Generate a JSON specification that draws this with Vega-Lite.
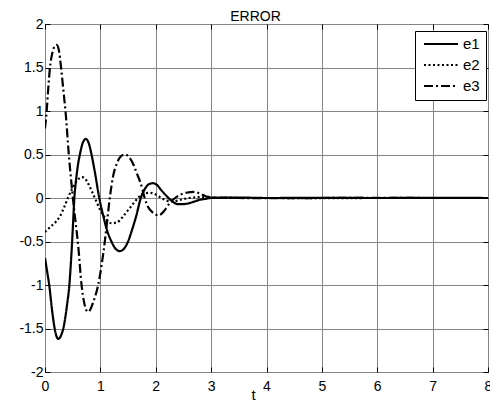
{
  "$schema": "https://vega.github.io/schema/vega-lite/v6.json",
  "autosize": "none",
  "width": 443,
  "height": 348,
  "padding": {"left": 45, "top": 24, "right": 2, "bottom": 31},
  "background": "white",
  "config": {
    "view": {"stroke": "black", "strokeWidth": 1},
    "font": "Liberation Sans",
    "axis": {"labelFont": "Liberation Sans", "titleFont": "Liberation Sans", "labelColor": "black", "titleColor": "black", "tickColor": "black", "domain": false, "gridColor": "#858585", "gridOpacity": 1, "gridWidth": 1}
  },
  "title": {"text": "ERROR", "fontSize": 14, "fontWeight": "normal", "font": "Liberation Sans", "color": "black", "baseline": "bottom", "offset": 2, "dx": -11, "dy": 23},
  "data": {"values": [
    {"t": 0, "v": -0.69, "s": "e1"},
    {"t": 0.04, "v": -0.85, "s": "e1"},
    {"t": 0.08, "v": -1.02, "s": "e1"},
    {"t": 0.12, "v": -1.25, "s": "e1"},
    {"t": 0.15, "v": -1.4, "s": "e1"},
    {"t": 0.19, "v": -1.55, "s": "e1"},
    {"t": 0.24, "v": -1.62, "s": "e1"},
    {"t": 0.29, "v": -1.58, "s": "e1"},
    {"t": 0.33, "v": -1.5, "s": "e1"},
    {"t": 0.36, "v": -1.4, "s": "e1"},
    {"t": 0.4, "v": -1.22, "s": "e1"},
    {"t": 0.44, "v": -1.0, "s": "e1"},
    {"t": 0.47, "v": -0.72, "s": "e1"},
    {"t": 0.49, "v": -0.5, "s": "e1"},
    {"t": 0.51, "v": -0.25, "s": "e1"},
    {"t": 0.53, "v": 0.0, "s": "e1"},
    {"t": 0.56, "v": 0.2, "s": "e1"},
    {"t": 0.6, "v": 0.4, "s": "e1"},
    {"t": 0.63, "v": 0.5, "s": "e1"},
    {"t": 0.68, "v": 0.63, "s": "e1"},
    {"t": 0.74, "v": 0.68, "s": "e1"},
    {"t": 0.79, "v": 0.63, "s": "e1"},
    {"t": 0.84, "v": 0.5, "s": "e1"},
    {"t": 0.9, "v": 0.3, "s": "e1"},
    {"t": 0.98, "v": 0.0, "s": "e1"},
    {"t": 1.05, "v": -0.2, "s": "e1"},
    {"t": 1.12, "v": -0.37, "s": "e1"},
    {"t": 1.2, "v": -0.5, "s": "e1"},
    {"t": 1.27, "v": -0.58, "s": "e1"},
    {"t": 1.35, "v": -0.61, "s": "e1"},
    {"t": 1.43, "v": -0.58, "s": "e1"},
    {"t": 1.5, "v": -0.5, "s": "e1"},
    {"t": 1.57, "v": -0.37, "s": "e1"},
    {"t": 1.65, "v": -0.2, "s": "e1"},
    {"t": 1.73, "v": 0.0, "s": "e1"},
    {"t": 1.8, "v": 0.1, "s": "e1"},
    {"t": 1.88, "v": 0.16, "s": "e1"},
    {"t": 1.95, "v": 0.17, "s": "e1"},
    {"t": 2.02, "v": 0.15, "s": "e1"},
    {"t": 2.1, "v": 0.09, "s": "e1"},
    {"t": 2.2, "v": 0.02, "s": "e1"},
    {"t": 2.3, "v": -0.04, "s": "e1"},
    {"t": 2.4, "v": -0.07, "s": "e1"},
    {"t": 2.5, "v": -0.07, "s": "e1"},
    {"t": 2.6, "v": -0.06, "s": "e1"},
    {"t": 2.7, "v": -0.04, "s": "e1"},
    {"t": 2.8, "v": -0.02, "s": "e1"},
    {"t": 2.9, "v": -0.01, "s": "e1"},
    {"t": 3.0, "v": 0.0, "s": "e1"},
    {"t": 3.5, "v": 0.005, "s": "e1"},
    {"t": 4.0, "v": 0.0, "s": "e1"},
    {"t": 5.0, "v": 0.002, "s": "e1"},
    {"t": 6.0, "v": 0.0, "s": "e1"},
    {"t": 7.0, "v": 0.002, "s": "e1"},
    {"t": 8.0, "v": 0.0, "s": "e1"},
    {"t": 0, "v": -0.39, "s": "e2"},
    {"t": 0.1, "v": -0.33, "s": "e2"},
    {"t": 0.2, "v": -0.27, "s": "e2"},
    {"t": 0.27, "v": -0.21, "s": "e2"},
    {"t": 0.35, "v": -0.1, "s": "e2"},
    {"t": 0.42, "v": 0.01, "s": "e2"},
    {"t": 0.5, "v": 0.12, "s": "e2"},
    {"t": 0.58, "v": 0.2, "s": "e2"},
    {"t": 0.67, "v": 0.24, "s": "e2"},
    {"t": 0.75, "v": 0.2, "s": "e2"},
    {"t": 0.8, "v": 0.14, "s": "e2"},
    {"t": 0.85, "v": 0.07, "s": "e2"},
    {"t": 0.9, "v": 0.0, "s": "e2"},
    {"t": 1.0, "v": -0.14, "s": "e2"},
    {"t": 1.1, "v": -0.24, "s": "e2"},
    {"t": 1.2, "v": -0.29, "s": "e2"},
    {"t": 1.3, "v": -0.28, "s": "e2"},
    {"t": 1.4, "v": -0.22, "s": "e2"},
    {"t": 1.5, "v": -0.14, "s": "e2"},
    {"t": 1.6, "v": -0.06, "s": "e2"},
    {"t": 1.68, "v": 0.0, "s": "e2"},
    {"t": 1.78, "v": 0.05, "s": "e2"},
    {"t": 1.9, "v": 0.06, "s": "e2"},
    {"t": 2.0, "v": 0.04, "s": "e2"},
    {"t": 2.1, "v": 0.0, "s": "e2"},
    {"t": 2.2, "v": -0.03, "s": "e2"},
    {"t": 2.3, "v": -0.04, "s": "e2"},
    {"t": 2.45, "v": -0.02, "s": "e2"},
    {"t": 2.6, "v": 0.0, "s": "e2"},
    {"t": 2.8, "v": 0.01, "s": "e2"},
    {"t": 3.0, "v": 0.005, "s": "e2"},
    {"t": 3.5, "v": 0.0, "s": "e2"},
    {"t": 4.0, "v": 0.0, "s": "e2"},
    {"t": 5.0, "v": -0.002, "s": "e2"},
    {"t": 6.0, "v": 0.0, "s": "e2"},
    {"t": 7.0, "v": 0.0, "s": "e2"},
    {"t": 8.0, "v": 0.0, "s": "e2"},
    {"t": 0, "v": 0.8, "s": "e3"},
    {"t": 0.03, "v": 1.0, "s": "e3"},
    {"t": 0.06, "v": 1.27, "s": "e3"},
    {"t": 0.09, "v": 1.5, "s": "e3"},
    {"t": 0.13, "v": 1.66, "s": "e3"},
    {"t": 0.17, "v": 1.74, "s": "e3"},
    {"t": 0.21, "v": 1.76, "s": "e3"},
    {"t": 0.25, "v": 1.7, "s": "e3"},
    {"t": 0.29, "v": 1.5, "s": "e3"},
    {"t": 0.33, "v": 1.25, "s": "e3"},
    {"t": 0.37, "v": 1.0, "s": "e3"},
    {"t": 0.43, "v": 0.5, "s": "e3"},
    {"t": 0.48, "v": 0.15, "s": "e3"},
    {"t": 0.52, "v": -0.1, "s": "e3"},
    {"t": 0.56, "v": -0.32, "s": "e3"},
    {"t": 0.6, "v": -0.55, "s": "e3"},
    {"t": 0.66, "v": -1.0, "s": "e3"},
    {"t": 0.7, "v": -1.18, "s": "e3"},
    {"t": 0.74, "v": -1.28, "s": "e3"},
    {"t": 0.78, "v": -1.31, "s": "e3"},
    {"t": 0.82, "v": -1.28, "s": "e3"},
    {"t": 0.88, "v": -1.18, "s": "e3"},
    {"t": 0.96, "v": -1.0, "s": "e3"},
    {"t": 1.02, "v": -0.78, "s": "e3"},
    {"t": 1.08, "v": -0.5, "s": "e3"},
    {"t": 1.13, "v": -0.22, "s": "e3"},
    {"t": 1.17, "v": 0.0, "s": "e3"},
    {"t": 1.23, "v": 0.25, "s": "e3"},
    {"t": 1.3, "v": 0.4, "s": "e3"},
    {"t": 1.37, "v": 0.48, "s": "e3"},
    {"t": 1.44, "v": 0.5, "s": "e3"},
    {"t": 1.52, "v": 0.47, "s": "e3"},
    {"t": 1.6, "v": 0.38, "s": "e3"},
    {"t": 1.66, "v": 0.28, "s": "e3"},
    {"t": 1.71, "v": 0.2, "s": "e3"},
    {"t": 1.76, "v": 0.1, "s": "e3"},
    {"t": 1.8, "v": 0.0, "s": "e3"},
    {"t": 1.86, "v": -0.1, "s": "e3"},
    {"t": 1.95, "v": -0.17, "s": "e3"},
    {"t": 2.05, "v": -0.2, "s": "e3"},
    {"t": 2.15, "v": -0.15, "s": "e3"},
    {"t": 2.25, "v": -0.06, "s": "e3"},
    {"t": 2.35, "v": 0.0, "s": "e3"},
    {"t": 2.45, "v": 0.04, "s": "e3"},
    {"t": 2.55, "v": 0.06, "s": "e3"},
    {"t": 2.7, "v": 0.07, "s": "e3"},
    {"t": 2.8, "v": 0.05, "s": "e3"},
    {"t": 2.9, "v": 0.02, "s": "e3"},
    {"t": 3.0, "v": 0.01, "s": "e3"},
    {"t": 3.5, "v": 0.0, "s": "e3"},
    {"t": 4.0, "v": -0.003, "s": "e3"},
    {"t": 5.0, "v": 0.0, "s": "e3"},
    {"t": 6.0, "v": 0.003, "s": "e3"},
    {"t": 7.0, "v": 0.0, "s": "e3"},
    {"t": 8.0, "v": 0.0, "s": "e3"}
  ]},
  "layer": [
    {
      "mark": {"type": "line", "color": "black", "strokeWidth": 2.2, "interpolate": "monotone", "clip": true},
      "encoding": {
        "x": {"field": "t", "type": "quantitative", "scale": {"domain": [0, 8], "nice": false, "zero": false},
          "axis": {"values": [0,1,2,3,4,5,6,7,8], "title": "t", "titleFontSize": 15, "titleFontWeight": "normal", "titleX": 208, "titleY": 27, "titleBaseline": "alphabetic", "labelFontSize": 14, "tickSize": -5, "labelPadding": 12, "labelFlush": false}},
        "y": {"field": "v", "type": "quantitative", "scale": {"domain": [-2, 2], "nice": false, "zero": false},
          "axis": {"values": [-2,-1.5,-1,-0.5,0,0.5,1,1.5,2], "format": "~g", "labelExpr": "replace(datum.label, '\u2212', '-')", "title": null, "labelFontSize": 14, "tickSize": -5, "labelPadding": 7, "labelFlush": false}},
        "strokeDash": {"field": "s", "type": "nominal",
          "scale": {"domain": ["e1", "e2", "e3"], "range": [[1, 0], [2, 2.5], [9, 3, 2, 3]]},
          "legend": {"title": null, "orient": "none", "legendX": 370, "legendY": 7, "symbolType": "stroke", "symbolSize": 1156, "symbolStrokeWidth": 2, "symbolStrokeColor": "black", "clipHeight": 14, "rowPadding": 6, "padding": 6, "symbolOffset": 2, "labelOffset": 4, "labelFontSize": 15, "labelFont": "Liberation Sans", "labelColor": "black", "strokeColor": "black", "fillColor": "white"}}
      }
    },
    {
      "mark": {"type": "point", "opacity": 0},
      "encoding": {
        "x": {"field": "t", "type": "quantitative", "axis": {"orient": "top", "values": [0,1,2,3,4,5,6,7,8], "labels": false, "grid": false, "title": null, "tickSize": -5, "minExtent": 0, "maxExtent": 0, "offset": 0}},
        "y": {"field": "v", "type": "quantitative", "axis": {"orient": "right", "values": [-2,-1.5,-1,-0.5,0,0.5,1,1.5,2], "labels": false, "grid": false, "title": null, "tickSize": -5, "minExtent": 0, "maxExtent": 0}}
      }
    }
  ],
  "resolve": {"axis": {"x": "independent", "y": "independent"}}
}
